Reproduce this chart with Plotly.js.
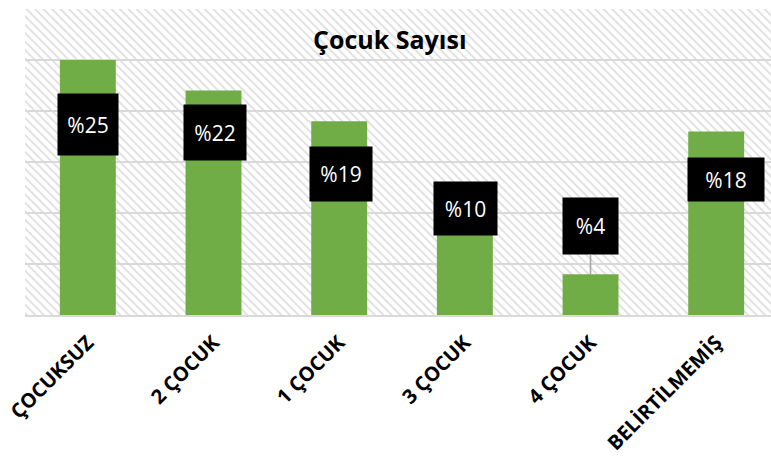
<!DOCTYPE html>
<html>
<head>
<meta charset="utf-8">
<script src="https://cdn.plot.ly/plotly-3.0.1.min.js"></script>
<style>
  html, body { margin: 0; padding: 0; background: #ffffff; }
  #chart { width: 771px; height: 459px; }
</style>
</head>
<body>
<div id="chart"></div>
<script>
// ---- data ----
const categories = ["ÇOCUKSUZ", "2 ÇOCUK", "1 ÇOCUK", "3 ÇOCUK", "4 ÇOCUK", "BELİRTİLMEMİŞ"];
const values = [25, 22, 19, 10, 4, 18];
const labelTexts = values.map(v => "%" + v);
const chartTitle = "Çocuk Sayısı";
const yTicks = [0, 5, 10, 15, 20, 25, 30];

// ---- label placement (pixel offsets of each label box from its bar top) ----
const labelOffsets = [[0, 64], [1, 42], [2, 53], [1, -5], [0, -48], [10, 48]];
const labelWidths = [60, 62, 62, 63, 55, 76];
const labelHeights = [61, 55, 54, 53, 56, 43];
const leaderShown = [false, false, false, false, true, false];

const plotW = 746, plotH = 306;
const hatch = "<svg xmlns='http://www.w3.org/2000/svg' width='" + plotW + "' height='" + plotH + "'>" +
  "<defs><pattern id='p' width='6' height='6' patternUnits='userSpaceOnUse' patternTransform='rotate(-45)'>" +
  "<rect width='6' height='6' fill='#ffffff'/><rect width='2' height='6' fill='#e2e2e2'/></pattern></defs>" +
  "<rect width='100%' height='100%' fill='url(#p)'/></svg>";
const hatchURI = "data:image/svg+xml;charset=utf-8," + encodeURIComponent(hatch);

const trace = {
  type: "bar",
  x: categories,
  y: values,
  marker: { color: "#70ad47" },
  hoverinfo: "skip"
};

const annotations = categories.map((c, i) => ({
  x: c,
  y: values[i],
  xref: "x",
  yref: "y",
  text: labelTexts[i],
  showarrow: true,
  arrowhead: 0,
  arrowwidth: 1.5,
  arrowcolor: leaderShown[i] ? "#a6a6a6" : "rgba(0,0,0,0)",
  ax: labelOffsets[i][0],
  ay: labelOffsets[i][1],
  width: labelWidths[i],
  height: labelHeights[i],
  bgcolor: "#000000",
  borderpad: 0,
  font: { family: "Open Sans, sans-serif", size: 21, color: "#ffffff" }
}));

const layout = {
  width: 771,
  height: 459,
  margin: { l: 25, r: 0, t: 9, b: 144 },
  paper_bgcolor: "#ffffff",
  plot_bgcolor: "rgba(0,0,0,0)",
  showlegend: false,
  bargap: 0.555,
  title: {
    text: "<b>" + chartTitle + "</b>",
    x: 0.489, xref: "paper", xanchor: "center",
    y: 0.912, yref: "container", yanchor: "middle",
    font: { family: "Open Sans, sans-serif", size: 25, color: "#000000" }
  },
  xaxis: {
    type: "category",
    range: [-0.5, 5.436],
    tickangle: -45,
    ticklabelstandoff: 6,
    tickfont: { family: "Open Sans, sans-serif", size: 20, color: "#000000", weight: "bold" },
    showline: true, linecolor: "#d9d9d9", linewidth: 2,
    ticks: "", showgrid: false, zeroline: false
  },
  yaxis: {
    range: [0, 30],
    tickvals: yTicks,
    showticklabels: false,
    showgrid: true, gridcolor: "#d9d9d9", gridwidth: 2,
    zeroline: false, showline: false, ticks: ""
  },
  images: [{
    source: hatchURI,
    xref: "paper", yref: "paper",
    x: 0, y: 1, sizex: 1, sizey: 1,
    xanchor: "left", yanchor: "top",
    sizing: "stretch", layer: "below"
  }],
  annotations: annotations
};

Plotly.newPlot("chart", [trace], layout, { displayModeBar: false, staticPlot: true });
</script>
</body>
</html>
